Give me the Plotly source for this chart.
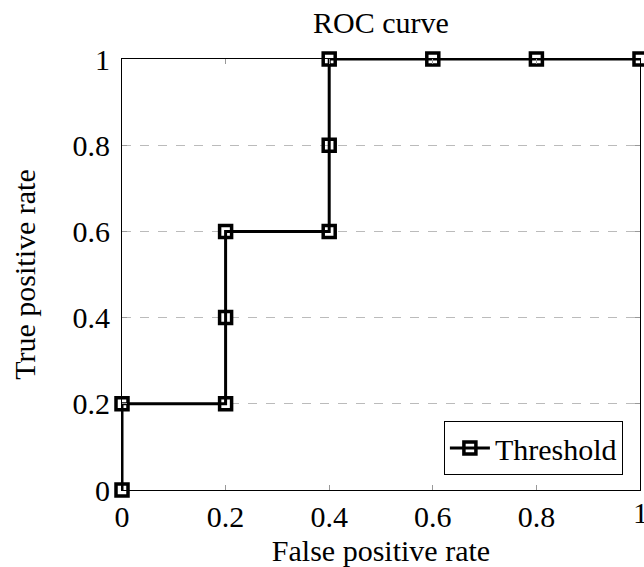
import plotly.graph_objects as go

fpr = [0, 0, 0.2, 0.2, 0.2, 0.4, 0.4, 0.4, 0.6, 0.8, 1.0]
tpr = [0, 0.2, 0.2, 0.4, 0.6, 0.6, 0.8, 1.0, 1.0, 1.0, 1.0]
tick_vals = [0, 0.2, 0.4, 0.6, 0.8, 1]
tick_text = ["0", "0.2", "0.4", "0.6", "0.8", "1"]

FONT = "Liberation Serif"
FS = 30

fig = go.Figure()
fig.add_trace(go.Scatter(
    x=fpr, y=tpr, mode="lines+markers", name="Threshold",
    line=dict(color="black", width=3),
    marker=dict(symbol="square-open", size=12, color="black", line=dict(width=3.5, color="black")),
    cliponaxis=False,
))

fig.update_layout(
    width=644, height=567,
    margin=dict(l=122, r=4, t=59, b=77),
    paper_bgcolor="white", plot_bgcolor="white",
    font=dict(family=FONT, size=FS, color="black"),
    title=dict(text="ROC curve", x=0.5, xref="paper", y=1 - 22 / 567, yref="container",
               xanchor="center", yanchor="middle", font=dict(size=FS)),
    showlegend=True,
    legend=dict(x=0.967, y=0.035, xanchor="right", yanchor="bottom",
                bordercolor="black", borderwidth=1, bgcolor="white",
                font=dict(size=FS), itemwidth=40, tracegroupgap=0),
)
fig.update_xaxes(
    range=[0, 1], tickvals=tick_vals[:-1], ticktext=tick_text[:-1],
    tickfont=dict(family=FONT, size=FS),
    showgrid=False, zeroline=False, showline=True, linecolor="black", linewidth=1,
    mirror="ticks", ticks="inside", ticklen=5, tickcolor="#999999",
    ticklabelstandoff=0,
    title=dict(text="False positive rate", standoff=8, font=dict(size=FS)),
)
# the last x tick label sits at the right edge and is partly cut off in the reference
fig.add_annotation(x=tick_vals[-1], y=0, xref="x", yref="paper", text=tick_text[-1],
                   showarrow=False, xanchor="center", yanchor="top", yshift=-4,
                   font=dict(family=FONT, size=FS, color="black"))
fig.update_yaxes(
    range=[0, 1], tickvals=tick_vals, ticktext=tick_text,
    tickfont=dict(family=FONT, size=FS),
    showgrid=True, gridcolor="#bbbbbb", griddash="dash", gridwidth=1,
    zeroline=False, showline=True, linecolor="black", linewidth=1,
    mirror="ticks", ticks="inside", ticklen=5, tickcolor="#999999",
    ticklabelstandoff=5,
    title=dict(text="True positive rate", standoff=28, font=dict(size=FS)),
)
fig.write_html("out.html", config={"displayModeBar": False},
               post_script="document.body.style.margin='0';document.body.style.padding='0';")
